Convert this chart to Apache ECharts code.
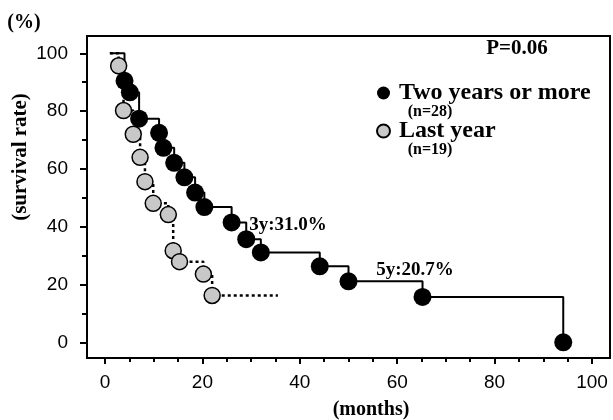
<!DOCTYPE html>
<html>
<head>
<meta charset="utf-8">
<script src="https://cdn.jsdelivr.net/npm/echarts@6.0.0/dist/echarts.min.js"></script>
<style>
  html, body { margin: 0; padding: 0; background: #fff; }
  #chart { width: 613px; height: 420px; }
</style>
</head>
<body>
<div id="chart"></div>
<script>
// 生存曲线数据
const blackMonths = [4.0, 5.1, 7.0, 11.1, 12.0, 14.2, 16.3, 18.5, 20.4, 26.0, 29.0, 32.0, 44.1, 50.0, 65.2, 94.1];
const blackSurvival = [90.5, 86.5, 77.4, 72.5, 67.3, 62.1, 57.1, 51.8, 46.8, 41.5, 35.7, 31.1, 26.3, 21.1, 15.7, 0];
const grayMonths = [2.8, 3.8, 5.8, 7.2, 8.2, 9.9, 13.0, 14.0, 15.3, 20.2, 22.0];
const graySurvival = [95.7, 80.2, 72.0, 64.0, 55.6, 48.1, 44.2, 31.7, 27.9, 23.6, 16.2];
const curveStart = [1, 100];
const grayFollowUpEnd = 35.5;

const xTickLabels = [0, 20, 40, 60, 80, 100];
const xMinorTicks = [5, 10, 15, 25, 30, 35, 45, 50, 55, 65, 70, 75, 85, 90, 95];
const yTickLabels = [0, 20, 40, 60, 80, 100];
const yMinorTicks = [10, 30, 50, 70, 90];

const seriesNames = ["Two years or more", "Last year"];

const serif = "'Liberation Serif', 'Times New Roman', serif";
const sans = "'Liberation Sans', Arial, sans-serif";

const blackPoints = blackMonths.map((m, i) => [m, blackSurvival[i]]);
const grayPoints = grayMonths.map((m, i) => [m, graySurvival[i]]);
const lastGray = graySurvival[graySurvival.length - 1];

const myChart = echarts.init(document.getElementById("chart"));

const xBase = {
  type: "value",
  min: -3.7,
  max: 103.7,
  splitLine: { show: false },
};
const yBase = {
  type: "value",
  min: -5.43,
  max: 106,
  splitLine: { show: false },
};

function textEl(text, x, y, size, rotation) {
  return {
    type: "text",
    x: x,
    y: y,
    rotation: rotation || 0,
    style: {
      text: text,
      fill: "#000",
      font: "bold " + size + "px " + serif,
      align: "center",
      verticalAlign: "middle",
    },
  };
}

const option = {
  animation: false,
  grid: {
    left: 87,
    right: 3,
    top: 36,
    bottom: 62,
    show: true,
    borderColor: "#000",
    borderWidth: 2,
  },
  xAxis: [
    Object.assign({}, xBase, {
      axisLine: { show: true, onZero: false, lineStyle: { color: "#000", width: 2 } },
      axisTick: { show: true, length: 6, customValues: xTickLabels, lineStyle: { color: "#000", width: 2 } },
      axisLabel: {
        customValues: xTickLabels,
        margin: 15,
        color: "#000",
        fontSize: 19,
        fontFamily: sans,
      },
    }),
    Object.assign({}, xBase, {
      position: "bottom",
      axisLine: { show: false, onZero: false },
      axisTick: { show: true, length: 4, customValues: xMinorTicks, lineStyle: { color: "#000", width: 2 } },
      axisLabel: { show: false },
    }),
  ],
  yAxis: [
    Object.assign({}, yBase, {
      axisLine: { show: true, onZero: false, lineStyle: { color: "#000", width: 2 } },
      axisTick: { show: true, length: 7, customValues: yTickLabels, lineStyle: { color: "#000", width: 2 } },
      axisLabel: {
        customValues: yTickLabels,
        margin: 19,
        color: "#000",
        fontSize: 19,
        fontFamily: sans,
      },
    }),
    Object.assign({}, yBase, {
      position: "left",
      axisLine: { show: false, onZero: false },
      axisTick: { show: true, length: 5, customValues: yMinorTicks, lineStyle: { color: "#000", width: 2 } },
      axisLabel: { show: false },
    }),
  ],
  legend: {
    orient: "vertical",
    left: 371,
    top: 76,
    itemWidth: 13,
    itemHeight: 13,
    itemGap: 14,
    icon: "circle",
    data: seriesNames,
    textStyle: {
      color: "#000",
      fontFamily: serif,
      fontWeight: "bold",
      fontSize: 24,
      lineHeight: 24,
      padding: [0, 0, 0, 4],
    },
  },
  graphic: [
    textEl("(%)", 24, 23, 20),
    textEl("(survival rate)", 21, 157, 21, Math.PI / 2),
    textEl("(months)", 371, 410, 20),
    textEl("P=0.06", 517, 49, 21),
    textEl("(n=28)", 430, 112, 16),
    textEl("(n=19)", 430, 150, 16),
    textEl("3y:31.0%", 288, 225, 19),
    textEl("5y:20.7%", 415, 270, 19),
  ],
  series: [
    {
      name: seriesNames[0],
      type: "scatter",
      z: 4,
      symbol: "circle",
      symbolSize: 18,
      itemStyle: { color: "#000", opacity: 1 },
      data: blackPoints,
    },
    {
      name: seriesNames[1],
      type: "scatter",
      z: 3,
      symbol: "circle",
      symbolSize: 16,
      itemStyle: { color: "#c8c8c8", borderColor: "#000", borderWidth: 1.5, opacity: 1 },
      data: grayPoints,
    },
    {
      name: seriesNames[0],
      type: "line",
      z: 2,
      step: "end",
      showSymbol: false,
      symbol: "none",
      lineStyle: { color: "#000", width: 2 },
      data: [curveStart].concat(blackPoints),
    },
    {
      name: seriesNames[1],
      type: "line",
      z: 1,
      step: "end",
      showSymbol: false,
      symbol: "none",
      lineStyle: { color: "#000", width: 2.5, type: [3, 3] },
      data: [curveStart].concat(grayPoints, [[grayFollowUpEnd, lastGray]]),
    },
  ],
};
myChart.setOption(option);
</script>
</body>
</html>
